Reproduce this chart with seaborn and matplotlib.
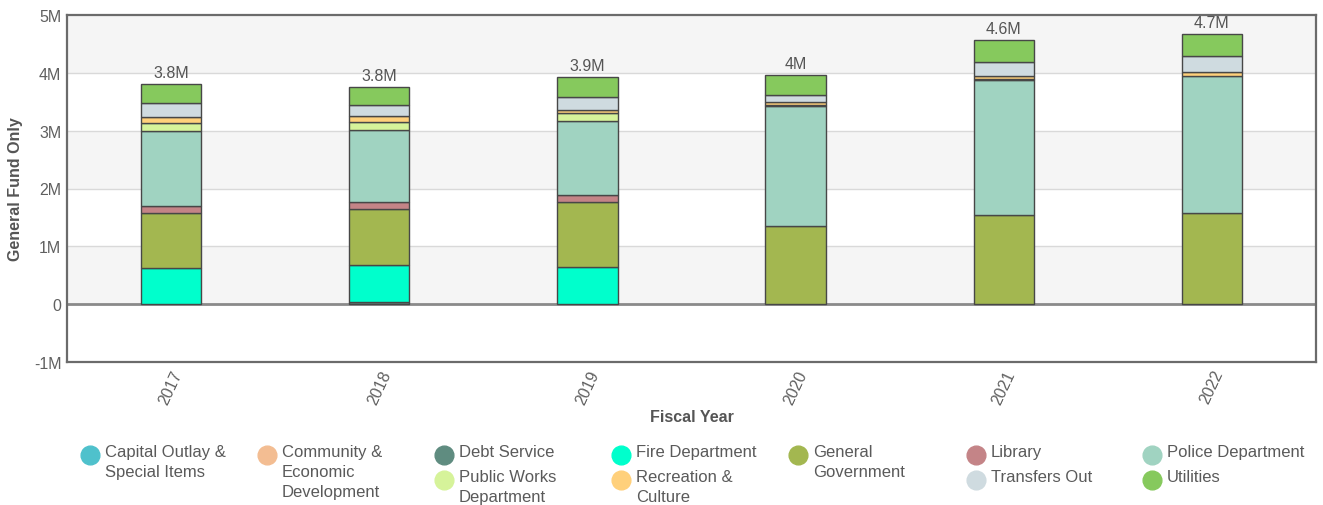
import numpy as np
import pandas as pd
import matplotlib
matplotlib.use("Agg")
import matplotlib.pyplot as plt
import seaborn as sns
from matplotlib.lines import Line2D

# ---- data (values in millions of dollars) ----
years = ["2017", "2018", "2019", "2020", "2021", "2022"]
capital_outlay = [0.0, 0.0, 0.0, 0.0, 0.0, 0.0]
community_dev = [0.0, 0.0, 0.0, 0.0, 0.0, 0.0]
debt_service = [0.0, 0.03, 0.0, 0.0, 0.0, 0.0]
fire_department = [0.62, 0.65, 0.64, 0.0, 0.0, 0.0]
general_government = [0.95, 0.96, 1.13, 1.36, 1.55, 1.58]
library = [0.12, 0.12, 0.12, 0.0, 0.0, 0.0]
police_department = [1.31, 1.25, 1.27, 2.06, 2.32, 2.36]
debt_service_top = [0.0, 0.0, 0.0, 0.02, 0.02, 0.0]
public_works = [0.14, 0.14, 0.14, 0.0, 0.0, 0.0]
recreation_culture = [0.10, 0.11, 0.06, 0.05, 0.05, 0.08]
transfers_out = [0.23, 0.19, 0.23, 0.12, 0.25, 0.27]
utilities = [0.33, 0.31, 0.33, 0.35, 0.38, 0.38]

legend_labels = ["Capital Outlay &\nSpecial Items", "Community &\nEconomic\nDevelopment",
                 "Debt Service", "Fire Department", "General\nGovernment", "Library",
                 "Police Department", "Public Works\nDepartment", "Recreation &\nCulture",
                 "Transfers Out", "Utilities"]

colors = {
    "Capital Outlay": "#4fc1cc",
    "Community": "#f3bd92",
    "Debt Service": "#5f8c80",
    "Fire": "#00ffcc",
    "General": "#a3b750",
    "Library": "#c48487",
    "Police": "#a0d3c1",
    "Public Works": "#d6f39a",
    "Recreation": "#ffd07b",
    "Transfers": "#cfdbe0",
    "Utilities": "#86c95d",
}

stack = [
    ("Debt Service", debt_service),
    ("Capital Outlay", capital_outlay),
    ("Community", community_dev),
    ("Fire", fire_department),
    ("General", general_government),
    ("Library", library),
    ("Police", police_department),
    ("Debt Service", debt_service_top),
    ("Public Works", public_works),
    ("Recreation", recreation_culture),
    ("Transfers", transfers_out),
    ("Utilities", utilities),
]

sns.set_theme(style="white")
plt.rcParams["font.family"] = ["Liberation Sans", "DejaVu Sans"]

fig = plt.figure(figsize=(13.23, 5.06), dpi=100)
ax = fig.add_axes([67 / 1323, 1 - 363 / 506, (1316 - 67) / 1323, (363 - 16) / 506])

# background bands
for lo in [0, 2, 4]:
    ax.axhspan(lo, lo + 1, color="#f5f5f5", zorder=0, lw=0)
for g in [1, 2, 3, 4]:
    ax.axhline(g, color="#d9d9d9", lw=1, zorder=0.5)

bottom = np.zeros(len(years))
for name, vals in stack:
    vals = np.asarray(vals, dtype=float)
    df = pd.DataFrame({"year": years, "value": vals})
    sns.barplot(data=df, x="year", y="value", order=years, color=colors[name],
                saturation=1, width=0.29, bottom=bottom.copy(), edgecolor="#474747",
                linewidth=1.0, errorbar=None, ax=ax, zorder=2)
    for p in ax.patches[-len(years):]:
        if p.get_height() == 0:
            p.set_visible(False)
    bottom = bottom + vals

ax.axhline(0, color="#8a8a8a", lw=2, zorder=1.5)

totals = bottom
for i, t in enumerate(totals):
    lab = f"{round(t + 1e-9, 1):.1f}".rstrip("0").rstrip(".") + "M"
    ax.text(i, t + 0.07, lab, ha="center", va="bottom", fontsize=11.5, color="#555555")

ax.set_ylim(-1, 5)
ax.set_xlim(-0.5, len(years) - 0.5)
ax.set_yticks([-1, 0, 1, 2, 3, 4, 5])
ax.set_yticklabels(["-1M", "0", "1M", "2M", "3M", "4M", "5M"], fontsize=11.5, color="#606060")
ax.set_xticks(range(len(years)))
ax.set_xticklabels(years, rotation=65, fontsize=11.5, color="#606060", ha="center")
ax.tick_params(axis="both", length=0, pad=4)
ax.set_ylabel("General Fund Only", fontsize=11.5, fontweight="bold", color="#555555", labelpad=8)
ax.set_xlabel("Fiscal Year", fontsize=11.5, fontweight="bold", color="#555555", labelpad=2)
for s in ax.spines.values():
    s.set_color("#6b6b6b")
    s.set_linewidth(1.6)

# legend (manual flow layout)
legend_colors = ["Capital Outlay", "Community", "Debt Service", "Fire", "General", "Library",
                 "Police", "Public Works", "Recreation", "Transfers", "Utilities"]
legend_pos = [(90, 456), (267, 456), (444, 456), (621, 456), (798, 456), (976, 456),
              (1152, 456), (444, 481), (621, 481), (976, 481), (1152, 481)]
W, H = 1323, 506
for lab, key, (px, py) in zip(legend_labels, legend_colors, legend_pos):
    fig.lines.append(Line2D([px / W], [1 - py / H], marker="o", markersize=13.5,
                            color=colors[key], linestyle="none", transform=fig.transFigure))
    fig.text((px + 15) / W, 1 - (py - 11) / H, lab, ha="left", va="top",
             fontsize=12, color="#5a5a5a", linespacing=1.42)

fig.savefig("out.png", dpi=100)
